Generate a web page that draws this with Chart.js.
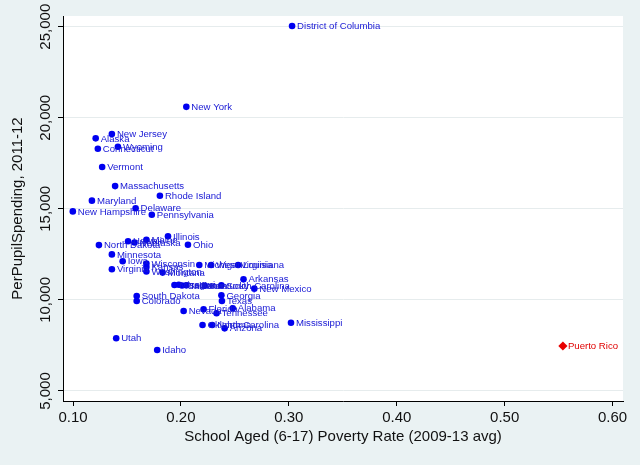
<!DOCTYPE html>
<html>
<head>
<meta charset="utf-8">
<script src="https://cdn.jsdelivr.net/npm/chart.js@4.4.1/dist/chart.umd.min.js"></script>
<style>
  html, body { margin: 0; padding: 0; background: #eaf2f3; }
  #wrap { width: 640px; height: 465px; }
</style>
</head>
<body>
<div id="wrap"><canvas id="povertyChart" width="640" height="465"></canvas></div>
<script>
// states (plus DC)
const stateNames = [
  "Alabama", "Alaska", "Arizona", "Arkansas", "California", "Colorado",
  "Connecticut", "Delaware", "District of Columbia", "Florida", "Georgia",
  "Hawaii", "Idaho", "Illinois", "Indiana", "Iowa", "Kansas", "Kentucky",
  "Louisiana", "Maine", "Maryland", "Massachusetts", "Michigan", "Minnesota",
  "Mississippi", "Missouri", "Montana", "Nebraska", "Nevada", "New Hampshire",
  "New Jersey", "New Mexico", "New York", "North Carolina", "North Dakota",
  "Ohio", "Oklahoma", "Oregon", "Pennsylvania", "Rhode Island",
  "South Carolina", "South Dakota", "Tennessee", "Texas", "Utah", "Vermont",
  "Virginia", "Washington", "West Virginia", "Wisconsin", "Wyoming"
];
const povertyRates = [
  0.248, 0.121, 0.2405, 0.258, 0.201, 0.159,
  0.123, 0.158, 0.303, 0.221, 0.2375,
  0.151, 0.178, 0.188, 0.205, 0.146, 0.168, 0.222,
  0.253, 0.168, 0.1175, 0.139, 0.217, 0.136,
  0.302, 0.194, 0.183, 0.157, 0.2025, 0.0998,
  0.136, 0.268, 0.205, 0.229, 0.124,
  0.2065, 0.220, 0.198, 0.173, 0.1805,
  0.2375, 0.159, 0.233, 0.238, 0.140, 0.127,
  0.136, 0.168, 0.228, 0.168, 0.1416
];
const perPupilSpending = [
  9540, 18870, 8440, 11130, 10790, 9940,
  18300, 15030, 25040, 9485, 10250,
  13220, 7250, 13490, 10800, 12120, 11810, 10780,
  11920, 13300, 15450, 16250, 11920, 12500,
  8750, 10820, 11500, 13150, 9390, 14860,
  19110, 10620, 20600, 8620, 13010,
  13030, 8620, 10830, 14680, 15720,
  10800, 10215, 9266, 9940, 7900, 17300,
  11680, 11560, 11920, 12000, 18410
];

const territoryNames = ["Puerto Rico"];
const territoryPoverty = [0.554];
const territorySpending = [7470];

const xTicks = [0.1, 0.2, 0.3, 0.4, 0.5, 0.6];
const yTicks = [5000, 10000, 15000, 20000, 25000];

const FONT = "'Liberation Sans', Arial, Helvetica, sans-serif";

const toPoints = (xs, ys) => xs.map((x, i) => ({ x: x, y: ys[i] }));

// labels next to each marker
const pointLabels = {
  id: "pointLabels",
  afterDatasetsDraw(chart) {
    const c = chart.ctx;
    c.save();
    c.font = "9.6px " + FONT;
    c.textBaseline = "middle";
    c.textAlign = "left";
    chart.data.datasets.forEach((ds, i) => {
      const meta = chart.getDatasetMeta(i);
      c.fillStyle = ds.labelColor;
      meta.data.forEach((pt, j) => {
        c.fillText(ds.names[j], pt.x + 5, pt.y + 0.5);
      });
    });
    c.restore();
  },
};

// rotated y tick labels, like the original
const yTickLabels = {
  id: "yTickLabels",
  afterDraw(chart) {
    const c = chart.ctx;
    const y = chart.scales.y;
    c.save();
    c.font = "15px " + FONT;
    c.fillStyle = "#111";
    c.textAlign = "center";
    c.textBaseline = "middle";
    yTicks.forEach((v) => {
      const py = y.getPixelForValue(v);
      c.save();
      c.translate(46, py);
      c.rotate(-Math.PI / 2);
      c.fillText(v.toLocaleString("en-US"), 0, 0);
      c.restore();
    });
    c.restore();
  },
};

const bgPlugin = {
  id: "bg",
  beforeDraw(chart) {
    const c = chart.ctx;
    const a = chart.chartArea;
    c.save();
    c.fillStyle = "#eaf2f3";
    c.fillRect(0, 0, chart.width, chart.height);
    c.fillStyle = "#ffffff";
    c.fillRect(a.left, a.top, a.right - a.left, a.bottom - a.top);
    c.restore();
  },
};

const ctx = document.getElementById("povertyChart").getContext("2d");

new Chart(ctx, {
  type: "scatter",
  data: {
    datasets: [
      {
        label: "States",
        names: stateNames,
        labelColor: "#1818d4",
        data: toPoints(povertyRates, perPupilSpending),
        backgroundColor: "#0000f0",
        borderWidth: 0,
        pointRadius: 3.3,
        pointHoverRadius: 3.3,
      },
      {
        label: "Territory",
        names: territoryNames,
        labelColor: "#e00000",
        data: toPoints(territoryPoverty, territorySpending),
        backgroundColor: "#e80000",
        borderWidth: 0,
        pointStyle: "rectRot",
        pointRadius: 4.6,
        pointHoverRadius: 4.6,
      },
    ],
  },
  options: {
    responsive: false,
    animation: false,
    events: [],
    layout: { padding: { left: 0, right: 17, top: 16, bottom: 0 } },
    plugins: {
      legend: { display: false },
      tooltip: { enabled: false },
    },
    scales: {
      x: {
        type: "linear",
        min: 0.0907,
        max: 0.6097,
        afterBuildTicks: (s) => { s.ticks = xTicks.map((v) => ({ value: v })); },
        afterFit: (s) => { s.height = 64; },
        ticks: {
          color: "#111",
          font: { family: FONT, size: 15 },
          padding: 3,
          maxRotation: 0,
          callback: (v) => v.toFixed(2),
        },
        grid: {
          drawOnChartArea: false,
          tickLength: 5,
          tickColor: "#000",
        },
        border: { display: true, color: "#000", width: 1 },
        title: {
          display: true,
          text: "School Aged (6-17) Poverty Rate (2009-13 avg)",
          color: "#111",
          font: { family: FONT, size: 15 },
          padding: { top: 0, bottom: 19 },
        },
      },
      y: {
        type: "linear",
        min: 4451,
        max: 25587,
        afterBuildTicks: (s) => { s.ticks = yTicks.map((v) => ({ value: v })); },
        afterFit: (s) => { s.width = 63; },
        ticks: { display: false },
        grid: {
          color: "#e6eced",
          lineWidth: 1,
          tickLength: 5,
          tickColor: "#000",
        },
        border: { display: true, color: "#000", width: 1 },
        title: {
          display: true,
          text: "PerPupilSpending, 2011-12",
          color: "#111",
          font: { family: FONT, size: 15 },
          padding: { top: 9, bottom: 0 },
        },
      },
    },
  },
  plugins: [bgPlugin, pointLabels, yTickLabels],
});
</script>
</body>
</html>
